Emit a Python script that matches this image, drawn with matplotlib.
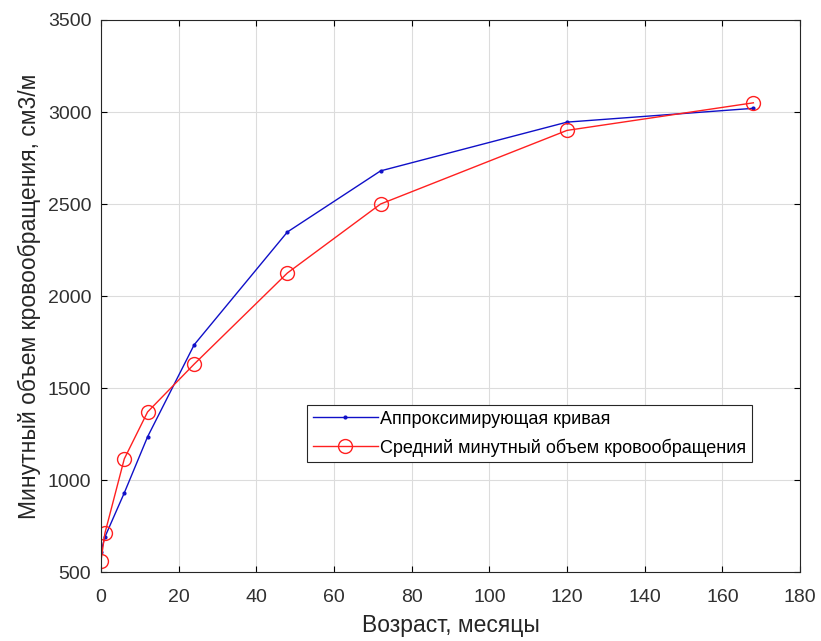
import matplotlib
matplotlib.use("Agg")
import matplotlib.pyplot as plt

plt.rcParams['font.family'] = ['Liberation Sans', 'DejaVu Sans']

# age in months
months = [0, 1, 6, 12, 24, 48, 72, 120, 168]
approx_curve = [610, 690, 930, 1235, 1735, 2348, 2680, 2945, 3020]
mean_volume = [560, 710, 1115, 1370, 1630, 2125, 2500, 2900, 3050]

xticks = list(range(0, 181, 20))
yticks = list(range(500, 3501, 500))

fig = plt.figure(figsize=(8.21, 6.41), dpi=100)
ax = fig.add_axes([0.123, 0.1076, 0.8514, 0.8612])

ax.plot(months, approx_curve, color='#1010c8', lw=1.0, marker='.', markersize=4,
        label='Аппроксимирующая кривая')
ax.plot(months, mean_volume, color='#ff2020', lw=1.0, marker='o', markersize=10,
        markerfacecolor='none', markeredgewidth=1.0,
        label='Средний минутный объем кровообращения')

ax.set_xlim(0, 180)
ax.set_ylim(500, 3500)
ax.set_xticks(xticks)
ax.set_yticks(yticks)
ax.grid(True, color='#dcdcdc', lw=0.8)
ax.set_axisbelow(True)
ax.tick_params(direction='in', labelsize=14, length=4, top=True, right=True,
               labeltop=False, labelright=False, labelcolor='#303030')
ax.tick_params(axis='x', pad=12)
ax.tick_params(axis='y', pad=7)
for s in ax.spines.values():
    s.set_color('#262626')
    s.set_linewidth(0.8)

ax.set_xlabel('Возраст, месяцы', fontsize=16.5, color='#262626', labelpad=6)
ax.set_ylabel('Минутный объем кровообращения, см3/м', fontsize=16.5,
              color='#262626', labelpad=5)

leg = ax.legend(loc='lower right', bbox_to_anchor=(0.931, 0.199), fontsize=13,
                fancybox=False, framealpha=1, edgecolor='#262626',
                borderpad=0.3, handlelength=3.6, handletextpad=0.15,
                labelspacing=0.6, borderaxespad=0)
leg.get_frame().set_linewidth(0.8)

fig.savefig('out.png', dpi=100)
